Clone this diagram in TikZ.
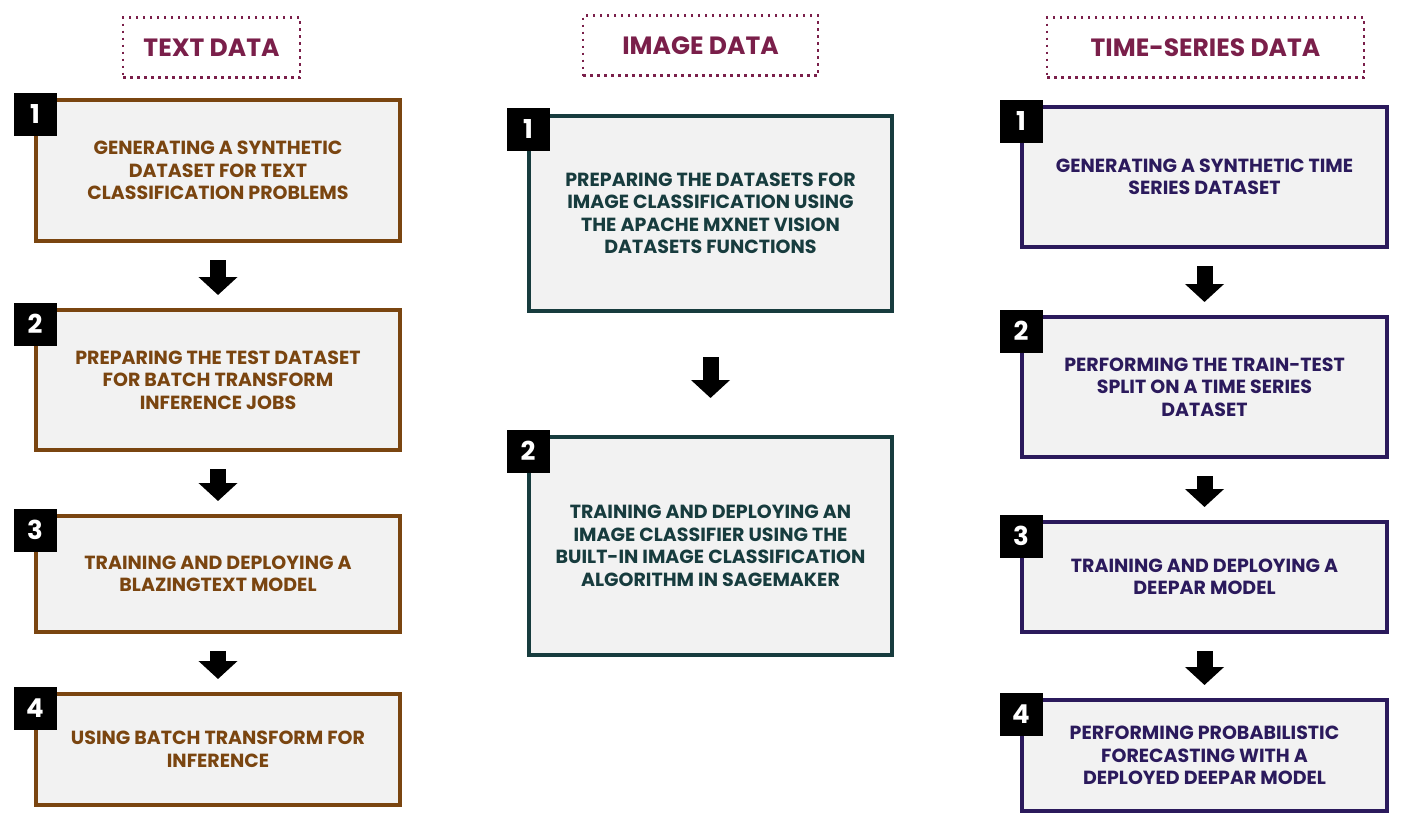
\documentclass[tikz,border=0pt]{standalone}
\usepackage{fontspec}
\setmainfont{Poppins}
\usetikzlibrary{arrows.meta,calc}
\definecolor{hdr}{HTML}{7A1F4A}
\definecolor{cbrown}{HTML}{7A4510}
\definecolor{cteal}{HTML}{173C3E}
\definecolor{cpurp}{HTML}{2B1A5C}
\definecolor{boxfill}{HTML}{F2F2F2}
\tikzset{
 hdrbox/.style={draw=hdr,dash pattern=on 2.5pt off 4.5pt,line width=2.5pt,minimum height=60pt,text=hdr,font=\fontsize{25}{28}\selectfont\bfseries},
 stepbox/.style={draw=#1,line width=4pt,fill=boxfill,text=#1,align=center,font=\fontsize{19}{22.5}\selectfont\bfseries,inner sep=0pt},
 numsq/.style={fill=black,text=white,minimum size=43pt,inner sep=0pt,font=\fontsize{26}{26}\selectfont\bfseries},
 blk/.style={line width=16pt,-{Triangle[width=38pt,length=18pt]},shorten <=17pt,shorten >=13pt,xshift=-7pt}
}
\newcommand{\mystepbox}[7]{%
 \node[stepbox=#2,minimum width={#5-#3},minimum height={#6-#4}] (#1) at ({(#3+#5)/2},{(#4+#6)/2}) {#7};}
\begin{document}
\begin{tikzpicture}[x=1pt,y=-1pt]
\useasboundingbox (0,0) rectangle (1402,835);
% headers
\node[hdrbox,minimum width=177pt] (h1) at (211.5,47.5) {TEXT DATA};
\node[hdrbox,minimum width=235pt] (h2) at (700.5,45.5) {IMAGE DATA};
\node[hdrbox,minimum width=317pt] (h3) at (1205.5,47.5) {TIME-SERIES DATA};
% text column
\mystepbox{t1}{cbrown}{36}{100}{400}{241}{GENERATING A SYNTHETIC\\DATASET FOR TEXT\\CLASSIFICATION PROBLEMS}
\mystepbox{t2}{cbrown}{36}{310}{400}{450}{PREPARING THE TEST DATASET\\FOR BATCH TRANSFORM\\INFERENCE JOBS}
\mystepbox{t3}{cbrown}{36}{516}{400}{632}{TRAINING AND DEPLOYING A\\BLAZINGTEXT MODEL}
\mystepbox{t4}{cbrown}{36}{694}{400}{805}{USING BATCH TRANSFORM FOR\\INFERENCE}
\node[numsq] (tn1) at (35,114) {1};
\node[numsq] (tn2) at (35,324) {2};
\node[numsq] (tn3) at (35,530) {3};
\node[numsq] (tn4) at (35,708) {4};
\draw[blk] (t1.south) -- (t2.north);
\draw[blk] (t2.south) -- (t3.north);
\draw[blk] (t3.south) -- (t4.north);
% image column
\mystepbox{i1}{cteal}{529}{116}{892}{311}{PREPARING THE DATASETS FOR\\IMAGE CLASSIFICATION USING\\THE APACHE MXNET VISION\\DATASETS FUNCTIONS}
\mystepbox{i2}{cteal}{529}{437}{892}{655}{TRAINING AND DEPLOYING AN\\IMAGE CLASSIFIER USING THE\\BUILT-IN IMAGE CLASSIFICATION\\ALGORITHM IN SAGEMAKER}
\node[numsq] (in1) at (528,129) {1};
\node[numsq] (in2) at (528,451) {2};
\draw[blk,shorten <=44pt,shorten >=37pt] (i1.south) -- (i2.north);
% time series column
\mystepbox{s1}{cpurp}{1022}{107}{1387}{247}{GENERATING A SYNTHETIC TIME\\SERIES DATASET}
\mystepbox{s2}{cpurp}{1022}{317}{1387}{457}{PERFORMING THE TRAIN-TEST\\SPLIT ON A TIME SERIES\\DATASET}
\mystepbox{s3}{cpurp}{1022}{522}{1387}{632}{TRAINING AND DEPLOYING A\\DEEPAR MODEL}
\mystepbox{s4}{cpurp}{1022}{700}{1387}{811}{PERFORMING PROBABILISTIC\\FORECASTING WITH A\\DEPLOYED DEEPAR MODEL}
\node[numsq] (sn1) at (1021,121) {1};
\node[numsq] (sn2) at (1021,331) {2};
\node[numsq] (sn3) at (1021,536) {3};
\node[numsq] (sn4) at (1021,714) {4};
\draw[blk] (s1.south) -- (s2.north);
\draw[blk] (s2.south) -- (s3.north);
\draw[blk] (s3.south) -- (s4.north);
\end{tikzpicture}
\end{document}
